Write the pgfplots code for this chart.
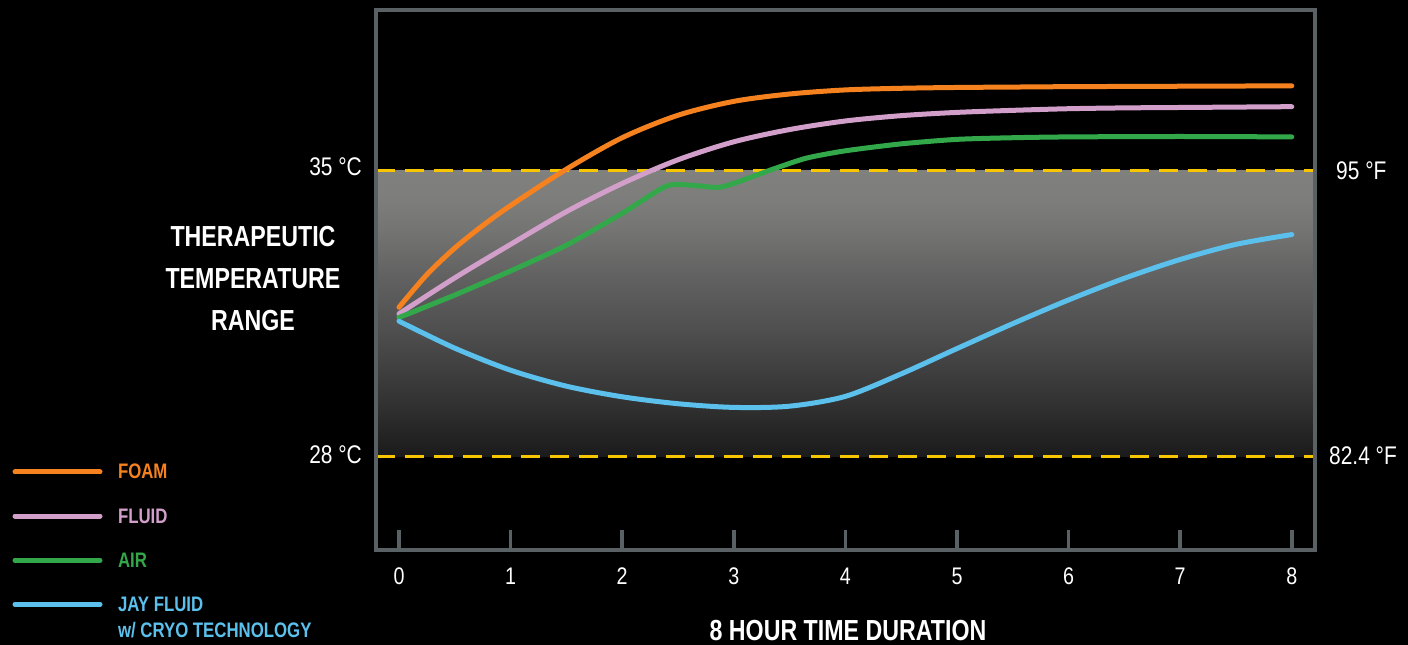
\documentclass[border=0pt]{standalone}
\usepackage{pgfplots}
\pgfplotsset{compat=1.18}
\usepackage{fontspec}
\newfontfamily\cond{Liberation Sans}[FakeStretch=0.8]
\newfontfamily\condr{Liberation Sans}[FakeStretch=0.82]
\definecolor{cfoam}{HTML}{F5821F}
\definecolor{cfluid}{HTML}{D29FCB}
\definecolor{cair}{HTML}{33A84B}
\definecolor{cjay}{HTML}{5BC0EB}
\definecolor{cyel}{HTML}{F7C600}
\definecolor{cborder}{HTML}{596165}
\definecolor{g0}{HTML}{1B1B1B}
\definecolor{g1}{HTML}{333333}
\definecolor{g2}{HTML}{4F4F4F}
\definecolor{g3}{HTML}{606060}
\definecolor{g4}{HTML}{747473}
\definecolor{g5}{HTML}{7D7D7B}
\definecolor{g6}{HTML}{80807E}
\pgfdeclareverticalshading{therap}{100bp}{color(0bp)=(g0); color(25bp)=(g0); color(34.8bp)=(g1); color(47bp)=(g2); color(55.8bp)=(g3); color(64.5bp)=(g4); color(69.8bp)=(g5); color(75bp)=(g6); color(100bp)=(g6)}

\pgfplotstableread{
x y
0 31.64
0.25 32.44
0.5 33.09
0.75 33.64
1 34.13
1.5 35.02
2 35.79
2.5 36.34
3 36.68
3.5 36.86
4 36.96
4.5 37.00
5 37.02
5.5 37.03
6 37.04
6.5 37.045
7 37.05
7.5 37.055
8 37.06
}\foam
\pgfplotstableread{
x y
0 31.48
0.5 32.36
1 33.18
1.5 33.98
2 34.67
2.5 35.25
3 35.69
3.5 35.99
4 36.20
4.5 36.33
5 36.41
5.5 36.46
6 36.50
6.5 36.52
7 36.53
7.5 36.54
8 36.55
}\fluid
\pgfplotstableread{
x y
0 31.39
0.5 31.94
1 32.53
1.5 33.16
2 33.94
2.4 34.61
2.65 34.62
2.9 34.59
3.35 35.02
3.65 35.29
4 35.47
4.5 35.64
5 35.75
5.5 35.79
6 35.81
7 35.82
8 35.81
}\air
\pgfplotstableread{
x y
0 31.30
0.5 30.64
1 30.10
1.5 29.71
2 29.45
2.5 29.28
3 29.19
3.5 29.22
4 29.46
4.5 30.01
5 30.63
5.5 31.24
6 31.82
6.5 32.35
7 32.81
7.5 33.18
8 33.42
}\jay

\begin{document}
\begin{tikzpicture}
\fill[black, use as bounding box] (-376pt,-95pt) rectangle (1032pt,550pt);
\begin{axis}[
  at={(0pt,0pt)}, anchor=south west,
  scale only axis, width=939pt, height=540pt,
  xmin=-0.206, xmax=8.208, ymin=25.70, ymax=38.916,
  axis line style={draw=cborder, line width=4pt},
  xtick={0,...,8}, ytick=\empty,
  xtick pos=lower, tick align=inside,
  major tick length=20pt,
  tick style={draw=cborder, line width=3.5pt},
  /pgf/number format/assume math mode=true,
  xticklabel style={font=\condr\fontsize{24}{24}\selectfont, text=white, yshift=-14pt},
  axis on top,
  legend cell align=left,
  legend style={at={(-0.3871,0.163)}, anchor=north west, draw=none, fill=none,
    inner sep=0pt, outer sep=0pt, row sep=23.6pt,
    font=\cond\bfseries\fontsize{21}{26}\selectfont,
    cells={anchor=base west, inner sep=0pt, text height=15pt, text depth=0pt}},
  legend image code/.code={\draw[#1, line width=5pt, line cap=round] (0pt,7pt) -- (85pt,7pt); \path (98.5pt,7pt);},
]
\addplot[draw=none, shade, shading=therap, forget plot] coordinates {(-0.206,28) (8.208,28) (8.208,35) (-0.206,35)} -- cycle;
\addplot[cyel, line width=3pt, dash pattern=on 19pt off 10pt, forget plot] coordinates {(-0.206,35) (8.208,35)};
\addplot[cyel, line width=3pt, dash pattern=on 19pt off 10pt, forget plot] coordinates {(-0.206,28) (8.208,28)};
\addplot[cfoam, line width=5pt, line cap=round, smooth] table {\foam};
\addlegendentry[text=cfoam]{FOAM}
\addplot[cfluid, line width=5pt, line cap=round, smooth] table {\fluid};
\addlegendentry[text=cfluid]{FLUID}
\addplot[cair, line width=5pt, line cap=round, smooth, tension=0.4] table {\air};
\addlegendentry[text=cair]{AIR}
\addplot[cjay, line width=5pt, line cap=round, smooth] table {\jay};
\addlegendentry[text=cjay]{\begin{tabular}[t]{@{}l@{}}JAY FLUID\\w/ CRYO TECHNOLOGY\end{tabular}}
\end{axis}
\begin{scope}[every node/.style={inner sep=0pt, text=white}]
\node[anchor=east, font=\condr\fontsize{25.5}{25.5}\selectfont] at (-14pt,383pt) {35 °C};
\node[anchor=east, font=\condr\fontsize{25.5}{25.5}\selectfont] at (-14pt,95pt) {28 °C};
\node[anchor=west, font=\condr\fontsize{25.5}{25.5}\selectfont] at (960pt,379pt) {95 °F};
\node[anchor=west, font=\condr\fontsize{25.5}{25.5}\selectfont] at (953pt,94pt) {82.4 °F};
\node[align=center, font=\cond\bfseries\fontsize{29}{42}\selectfont] at (-123pt,271pt) {THERAPEUTIC\\TEMPERATURE\\RANGE};
\node[font=\cond\bfseries\fontsize{29}{29}\selectfont] at (472pt,-81pt) {8 HOUR TIME DURATION};
\end{scope}
\end{tikzpicture}
\end{document}
